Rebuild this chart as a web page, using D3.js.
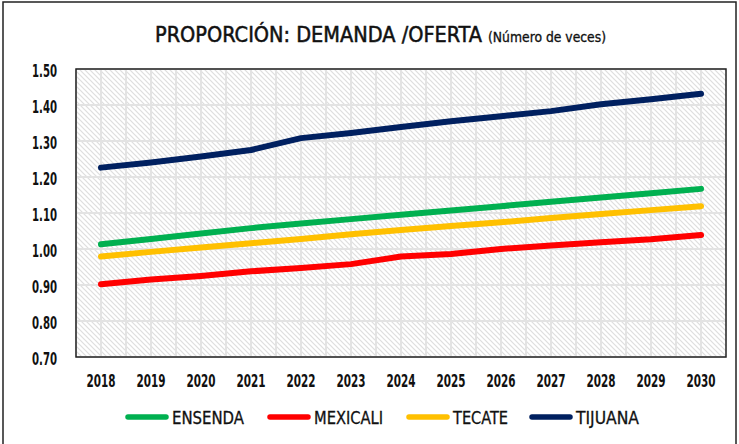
<!DOCTYPE html>
<html>
<head>
<meta charset="utf-8">
<script src="https://cdn.jsdelivr.net/npm/d3@7"></script>
<style>
body { margin: 0; background: #fff; }
svg { display: block; font-family: "DejaVu Sans Condensed", "DejaVu Sans", sans-serif; font-stretch: condensed; }
</style>
</head>
<body>
<svg id="chart" width="739" height="444"></svg>
<script>
var years = ["2018","2019","2020","2021","2022","2023","2024","2025","2026","2027","2028","2029","2030"];
var ensenda  = [1.013, 1.028, 1.043, 1.058, 1.071, 1.083, 1.095, 1.107, 1.119, 1.131, 1.143, 1.155, 1.167];
var mexicali = [0.902, 0.915, 0.925, 0.938, 0.947, 0.958, 0.979, 0.986, 1.000, 1.010, 1.019, 1.027, 1.039];
var tecate   = [0.979, 0.992, 1.004, 1.016, 1.028, 1.041, 1.053, 1.064, 1.074, 1.086, 1.097, 1.108, 1.119];
var tijuana  = [1.226, 1.240, 1.257, 1.275, 1.308, 1.322, 1.339, 1.355, 1.369, 1.383, 1.402, 1.416, 1.431];
var yTicks = [0.70, 0.80, 0.90, 1.00, 1.10, 1.20, 1.30, 1.40, 1.50];

var series = [
    {name: "ENSENDA", values: ensenda, color: "#00b050"},
    {name: "MEXICALI", values: mexicali, color: "#ff0000"},
    {name: "TECATE", values: tecate, color: "#ffc000"},
    {name: "TIJUANA", values: tijuana, color: "#002060"}
];

var vis = d3.select("#chart"),
WIDTH = 739,
HEIGHT = 444,
MARGINS = {top: 69, right: 13, bottom: 87, left: 76};

var xScale = d3.scaleBand()
    .domain(years)
    .range([MARGINS.left, WIDTH - MARGINS.right]);

var yScale = d3.scaleLinear()
    .domain([0.7, 1.5])
    .range([HEIGHT - MARGINS.bottom, MARGINS.top]);

// outer frame
vis.append("rect")
.attr("x", 3).attr("y", 2)
.attr("width", 733).attr("height", 460)
.attr("fill", "none")
.attr("stroke", "#222")
.attr("stroke-width", 1.5);

// hatch pattern for plot area
var pat = vis.append("defs").append("pattern")
.attr("id", "hatch")
.attr("patternUnits", "userSpaceOnUse")
.attr("width", 5).attr("height", 5);
pat.append("rect").attr("width", 5).attr("height", 5).attr("fill", "#fff");
pat.append("path")
.attr("d", "M-1,-1 L6,6 M-1,4 L1,6 M4,-1 L6,1")
.attr("stroke", "#dedede")
.attr("stroke-width", 1.2);

var plotW = WIDTH - MARGINS.right - MARGINS.left,
plotH = HEIGHT - MARGINS.bottom - MARGINS.top;

vis.append("rect")
.attr("x", MARGINS.left).attr("y", MARGINS.top)
.attr("width", plotW).attr("height", plotH)
.attr("fill", "url(#hatch)");

// grid lines: horizontal
vis.append("g")
.selectAll("line")
.data(yTicks)
.join("line")
.attr("x1", MARGINS.left).attr("x2", WIDTH - MARGINS.right)
.attr("y1", function (d) { return yScale(d); })
.attr("y2", function (d) { return yScale(d); })
.attr("stroke", "#e3e3e3")
.attr("stroke-width", 2);

// grid lines: vertical, at band edges and centers
var vLines = [];
years.forEach(function (y) {
    vLines.push(xScale(y));
    vLines.push(xScale(y) + xScale.bandwidth() / 2);
});
vis.append("g")
.selectAll("line")
.data(vLines)
.join("line")
.attr("x1", function (d) { return d; })
.attr("x2", function (d) { return d; })
.attr("y1", MARGINS.top).attr("y2", HEIGHT - MARGINS.bottom)
.attr("stroke", "#e3e3e3")
.attr("stroke-width", 2);

// plot border
vis.append("rect")
.attr("x", MARGINS.left).attr("y", MARGINS.top)
.attr("width", plotW).attr("height", plotH)
.attr("fill", "none")
.attr("stroke", "#222")
.attr("stroke-width", 1.5);

// axes (labels squeezed to mimic the narrow original font)
var xAxis = d3.axisBottom(xScale).tickSize(0).tickPadding(0);
var gx = vis.append("g")
.attr("transform", "translate(0," + (HEIGHT - MARGINS.bottom) + ")")
.call(xAxis)
.attr("font-family", null);
gx.select(".domain").remove();
gx.selectAll("text")
.attr("dy", null)
.attr("y", 30)
.attr("font-size", 17.5)
.attr("font-weight", "bold")
.attr("textLength", 29)
.attr("lengthAdjust", "spacingAndGlyphs")
.attr("fill", "#111");

var yAxis = d3.axisLeft(yScale).tickValues(yTicks).tickFormat(d3.format(".2f")).tickSize(0).tickPadding(0);
var gy = vis.append("g")
.attr("transform", "translate(" + MARGINS.left + ",0)")
.call(yAxis)
.attr("font-family", null);
gy.select(".domain").remove();
gy.selectAll("text")
.attr("dy", null)
.attr("x", -19)
.attr("y", 7)
.attr("font-size", 17.5)
.attr("font-weight", "bold")
.attr("textLength", 25)
.attr("lengthAdjust", "spacingAndGlyphs")
.attr("fill", "#111");

// lines
var lineGen = d3.line()
.x(function (d, i) { return xScale(years[i]) + xScale.bandwidth() / 2; })
.y(function (d) { return yScale(d); });

series.forEach(function (s) {
    vis.append("path")
    .attr("d", lineGen(s.values))
    .attr("stroke", s.color)
    .attr("stroke-width", 6)
    .attr("stroke-linecap", "round")
    .attr("stroke-linejoin", "round")
    .attr("fill", "none");
});

// title
vis.append("text")
.attr("x", 155)
.attr("y", 41.5)
.attr("font-size", 21.5)
.attr("fill", "#111")
.attr("stroke", "#111")
.attr("stroke-width", 0.5)
.attr("textLength", 327)
.attr("lengthAdjust", "spacingAndGlyphs")
.text("PROPORCIÓN: DEMANDA /OFERTA");
vis.append("text")
.attr("x", 488)
.attr("y", 41.5)
.attr("font-size", 13.5)
.attr("fill", "#111")
.attr("stroke", "#111")
.attr("stroke-width", 0.3)
.attr("textLength", 118)
.attr("lengthAdjust", "spacingAndGlyphs")
.text("(Número de veces)");

// legend
var legendX = [125, 267, 406, 529];
var legendW = [72, 69, 55, 63];
var lg = vis.append("g").selectAll("g")
.data(series)
.join("g")
.attr("transform", function (d, i) { return "translate(" + legendX[i] + ",417)"; });
lg.append("line")
.attr("x1", 3).attr("x2", 41)
.attr("y1", 0).attr("y2", 0)
.attr("stroke", function (d) { return d.color; })
.attr("stroke-width", 5.5)
.attr("stroke-linecap", "round");
lg.append("text")
.attr("x", 47)
.attr("y", 6.5)
.attr("font-size", 17.5)
.attr("fill", "#111")
.attr("stroke", "#111")
.attr("stroke-width", 0.3)
.attr("textLength", function (d, i) { return legendW[i]; })
.attr("lengthAdjust", "spacingAndGlyphs")
.text(function (d) { return d.name; });
</script>
</body>
</html>
